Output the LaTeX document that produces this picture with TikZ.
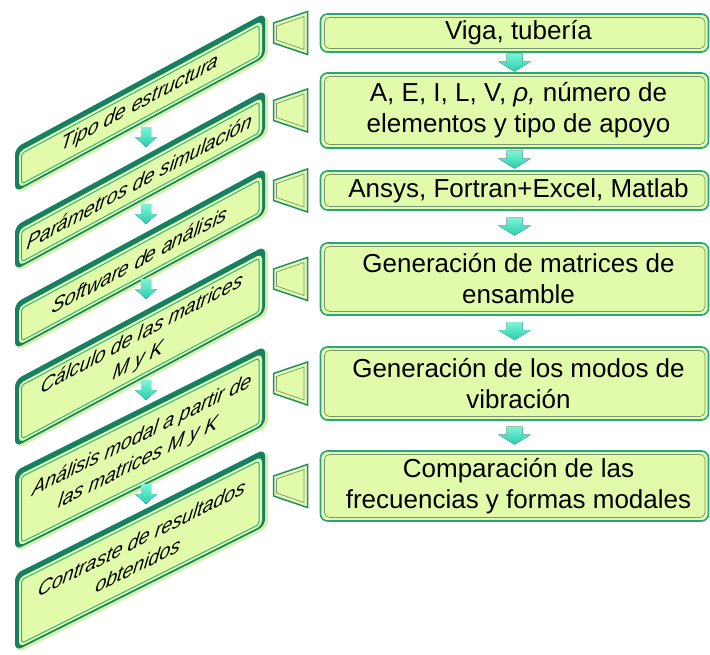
\documentclass[tikz,border=0pt]{standalone}
\usepackage{fontspec}
\setmainfont{Liberation Sans}
\usetikzlibrary{calc}
\definecolor{face}{RGB}{226,251,170}
\definecolor{rim}{RGB}{24,128,98}
\definecolor{edgec}{RGB}{52,178,134}
\definecolor{pale}{RGB}{208,242,168}
\definecolor{arrl}{RGB}{125,245,218}
\definecolor{arrd}{RGB}{40,205,170}
\definecolor{bevel}{RGB}{120,150,118}
\definecolor{rborder}{RGB}{40,165,128}
\definecolor{traprim}{RGB}{40,140,108}
\tikzset{
  rbox/.style={draw=rborder, line width=1.6pt, fill=face, rounded corners=7pt,
    minimum width=388pt, inner sep=0pt, outer sep=0pt},
  rtext/.style={font=\fontsize{26}{31}\selectfont, align=center, inner sep=0pt},
  ltext/.style={font=\fontsize{19.5}{25}\selectfont\itshape, align=center, inner sep=0pt,
    transform shape, xslant=0.15},
  rarrow/.pic={
    \fill[top color=arrl, bottom color=arrd] (-8,-9) -- (8,-9) -- (8,-1) -- (16.5,-1) -- (0,9) -- (-16.5,-1) -- (-8,-1) -- cycle;
  },
  larrow/.pic={
    \fill[top color=arrl, bottom color=arrd] (-5,-10) -- (5,-10) -- (5,0) -- (11,0) -- (0,10) -- (-11,0) -- (-5,0) -- cycle;
  },
  trap/.pic={
    \filldraw[fill=face, draw=traprim, line width=1.5pt] (-34,-10) -- (0,-21.5) -- (0,21.5) -- (-34,10) -- cycle;
    \draw[bevel, line width=0.7pt] (-31,-7) -- (-3.5,-16.5) -- (-3.5,16.5) -- (-31,7) -- cycle;
  }
}
% #1 name, #2 T (right top), #3 slant factor, #4 H, #5 text
\newcommand{\leftbox}[5]{%
  \begin{scope}[shift={(15,#2+250*#3)}, yslant=#3]
    \fill[pale, rounded corners=7pt] (2,3) rectangle (253,#4);
    \fill[rim, rounded corners=7pt] (0,0) rectangle (250,#4-3);
    \fill[face, rounded corners=5pt] (4,6) rectangle (247,#4-5);
    \draw[edgec, line width=1pt, rounded corners=3pt] (6.5,9) rectangle (244,#4-7.5);
    \node[ltext] (#1) at (125,{(#4)/2}) {#5};
  \end{scope}}
% #1 name, #2 centre y, #3 height, #4 text
\newcommand{\rightbox}[4]{%
  \node[rbox, minimum height=#3pt] (#1) at (514.5,#2) {};
  \draw[bevel, line width=0.7pt, rounded corners=5pt]
    ($(#1.north west)+(4,3.5)$) rectangle ($(#1.south east)+(-3.5,-3.5)$);
  \node[rtext] (#1t) at ($(#1.center)+(4,0)$) {#4};
  \pic at ($(#1.west)+(-13,0)$) {trap};}
\begin{document}
\begin{tikzpicture}[x=1pt,y=-1pt]
\useasboundingbox (0,0) rectangle (710,654);
\fill[white] (0,0) rectangle (710,654);

\leftbox{l1}{13}{0.54}{47}{Tipo de estructura}
\leftbox{l2}{90}{0.544}{47}{Parámetros de simulación}
\leftbox{l3}{168}{0.54}{49}{Software de análisis}
\leftbox{l4}{246}{0.536}{70}{Cálculo de las matrices\\M y K}
\leftbox{l5}{346}{0.5}{82}{Análisis modal a partir de\\las matrices M y K}
\leftbox{l6}{449}{0.5}{80}{Contraste de resultados\\obtenidos}

\pic at (146,137) {larrow};
\pic at (146,214) {larrow};
\pic at (146,289) {larrow};
\pic at (146,390) {larrow};
\pic at (146,494) {larrow};

\rightbox{r1}{33}{38}{Viga, tubería}
\rightbox{r2}{110.5}{75}{A, E, I, L, V, \textit{ρ,} número de\\elementos y tipo de apoyo}
\rightbox{r3}{190.5}{39}{Ansys, Fortran+Excel, Matlab}
\rightbox{r4}{279}{72}{Generación de matrices de\\ensamble}
\rightbox{r5}{383.5}{73}{Generación de los modos de\\vibración}
\rightbox{r6}{486}{70}{Comparación de las\\frecuencias y formas modales}

\pic at ($(r1.south)!0.5!(r2.north)$) {rarrow};
\pic at ($(r2.south)!0.5!(r3.north)$) {rarrow};
\pic at ($(r3.south)!0.5!(r4.north)$) {rarrow};
\pic at ($(r4.south)!0.5!(r5.north)$) {rarrow};
\pic at ($(r5.south)!0.5!(r6.north)$) {rarrow};
\end{tikzpicture}
\end{document}
